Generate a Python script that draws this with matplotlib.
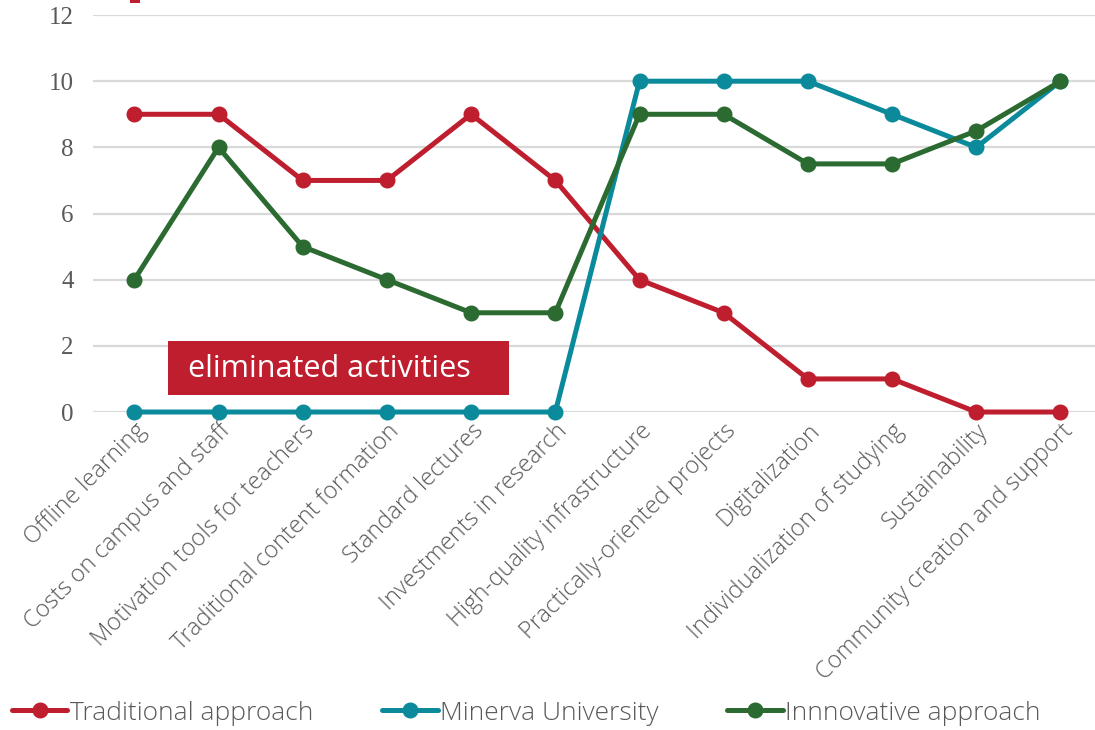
import matplotlib.pyplot as plt
from matplotlib.patches import Rectangle

# Дані
categories = ['Offline learning', 'Costs on campus and staff', 'Motivation tools for teachers',
              'Traditional content formation', 'Standard lectures', 'Investments in research',
              'High-quality infrastructure', 'Practically-oriented projects', 'Digitalization',
              'Individualization of studying', 'Sustainability', 'Community creation and support']
traditional = [9, 9, 7, 7, 9, 7, 4, 3, 1, 1, 0, 0]
minerva = [0, 0, 0, 0, 0, 0, 10, 10, 10, 9, 8, 10]
innovative = [4, 8, 5, 4, 3, 3, 9, 9, 7.5, 7.5, 8.5, 10]

series_names = ['Traditional approach', 'Minerva University', 'Innnovative approach']
colors = ['#BE1E2D', '#0A8A9A', '#2B6A30']
yticks = [0, 2, 4, 6, 8, 10, 12]

label_font = dict(family='Open Sans', weight='light', color='#595959')

fig = plt.figure(figsize=(10.95, 7.3), dpi=100)
ax = fig.add_axes([0.085, 0.4356, 0.915, 0.5438])

x = range(len(categories))
for vals, name, c in zip([traditional, minerva, innovative], series_names, colors):
    ax.plot(x, vals, color=c, lw=3.6, marker='o', markersize=10.5, label=name,
            solid_capstyle='round', clip_on=False)

ax.set_ylim(0, 12)
ax.set_xlim(-0.49, 11.41)
ax.set_yticks(yticks)
ax.set_yticklabels([str(v) for v in yticks], family='Liberation Serif', fontsize=18, color='#595959')
ax.set_xticks(list(x))
ax.set_xticklabels(categories, rotation=45, ha='right', va='top', rotation_mode='anchor',
                   fontsize=17, **label_font)
ax.tick_params(axis='both', length=0)
ax.tick_params(axis='y', pad=14)
ax.tick_params(axis='x', pad=5)
for s in ax.spines.values():
    s.set_visible(False)
ax.grid(axis='y', color='#d9d9d9', lw=1.6)
ax.set_axisbelow(True)

# Підпис "eliminated activities"
ax.add_patch(Rectangle((0.0749, 0.0428), 0.340, 0.136, transform=ax.transAxes,
                       facecolor='#BE1E2D', edgecolor='none', zorder=5))
ax.text(0.0948, 0.108, 'eliminated activities', transform=ax.transAxes, color='white',
        fontsize=22, family='Open Sans', va='center', ha='left', zorder=6)

# обрізаний червоний фрагмент зверху
fig.patches.append(Rectangle((130 / 1095, 1 - 3 / 730), 10 / 1095, 3 / 730,
                             transform=fig.transFigure, facecolor='#BE1E2D', edgecolor='none'))

leg = fig.legend(loc='center left', bbox_to_anchor=(0.011, 1 - 713 / 730), ncol=3, frameon=False,
                 handlelength=2.1, handletextpad=0.1, columnspacing=2.6,
                 borderaxespad=0, borderpad=0,
                 prop=dict(family='Open Sans', weight='light', size=19))
for t in leg.get_texts():
    t.set_color('#595959')

plt.savefig('out.png', dpi=100)
